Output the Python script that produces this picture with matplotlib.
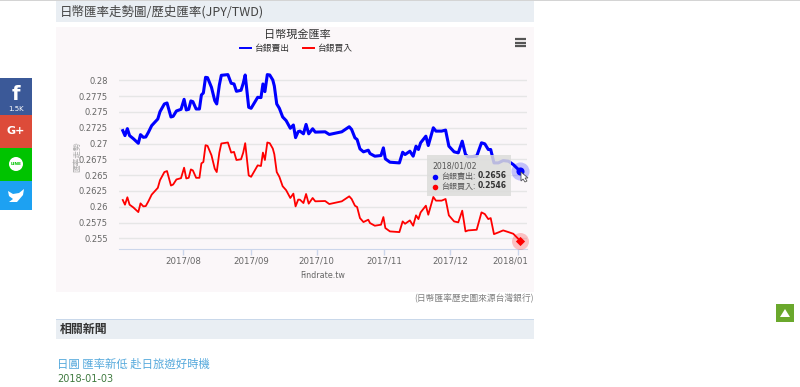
import pandas as pd
import matplotlib
matplotlib.use('Agg')
import matplotlib.pyplot as plt
from matplotlib.patches import Rectangle, Circle, Polygon
from matplotlib.transforms import ScaledTranslation

plt.rcParams['font.family'] = ['Noto Sans CJK TC', 'DejaVu Sans']

# days counted from 2017-08-01
days = [-27.5, -26.5, -25.4, -24.4, -22.7, -20.4, -19.4, -18.1, -17, -15.8,
        -14.3, -11.5, -10.5, -8.5, -7.3, -5.5, -4.5, -3, -0.9, 0.5,
        1.5, 2.6, 3.6, 4.5, 6, 7.5, 8.4, 9.3, 10.3, 11.2,
        13, 14.5, 15.4, 16.6, 17.5, 20.5, 22, 23.3, 24.4, 26.5,
        27.5, 28.4, 30, 31.1, 34.1, 35.6, 36.5, 37.4, 38.5, 39.6,
        41, 41.7, 42.8, 44, 45.5, 47.1, 49, 50.4, 51.4, 52.6,
        53.4, 55, 56.2, 57.4, 59.2, 60.4, 64.9, 66.8, 72.5, 75.9,
        77, 78.5, 79.5, 80.8, 82.4, 84.6, 85.4, 87.6, 90.4, 91.5,
        92.4, 94.5, 98.8, 100.3, 101.4, 103.6, 105.1, 106.4, 107.5, 108.5,
        110.9, 112, 114.3, 115.5, 118.1, 119.9, 121.4, 123.8, 125.7, 127.5,
        129, 130.2, 134.1, 136.3, 137.8, 139.4, 140.5, 142, 144, 146.2,
        148.6, 150.8, 154]

sell = [.27204, .27125, .27235, .27125, .27077, .27003, .2714, .27098, .27103, .27177,
        .27283, .27388, .27504, .27626, .27641, .2742, .2743, .27515, .27541, .27699,
        .27531, .27541, .27673, .27662, .27546, .27546, .27768, .278, .28047, .28042,
        .27889, .27678, .27626, .27926, .28079, .2809, .27953, .27942, .27826, .27842,
        .27953, .28084, .27573, .27557, .27731, .27726, .27942, .27821, .2809, .28084,
        .28005, .2791, .27626, .27557, .2742, .27362, .27241, .27293, .27093, .27188,
        .27196, .27153, .27302, .27153, .27233, .2718, .27185, .27143, .27185, .27265,
        .27222, .2709, .27063, .26915, .26868, .26894, .26841, .26799, .2681, .26931,
        .26757, .26704, .26693, .26862, .26825, .26878, .26799, .26958, .26905, .27011,
        .27116, .26968, .27249, .27196, .27196, .27212, .26958, .26868, .26852, .27037,
        .26825, .26788, .26799, .27011, .26995, .26905, .26905, .26693, .26693, .2673,
        .2672, .26667, .2656]

buy = [.26106, .26032, .26149, .26032, .25989, .25915, .26053, .26005, .2601, .26085,
       .26191, .26298, .2642, .26548, .26564, .26335, .26351, .26431, .26452, .26617,
       .26447, .26457, .2659, .26574, .26457, .26457, .26686, .26707, .26973, .26963,
       .26814, .26601, .26548, .26856, .27, .27016, .26856, .26867, .26739, .2675,
       .26856, .27005, .26495, .26473, .26654, .26644, .26856, .26739, .27016, .27005,
       .2692, .2683, .26548, .26473, .26324, .26261, .26138, .26207, .26005, .26112,
       .26111, .26058, .26201, .26048, .26138, .26085, .2609, .26042, .26085, .26164,
       .26122, .26016, .25995, .2582, .25757, .25794, .25741, .25699, .25715, .25836,
       .25662, .25609, .25598, .25767, .2573, .25783, .25699, .25863, .25804, .2591,
       .26016, .25873, .26154, .26096, .26096, .26122, .25863, .25767, .25752, .25937,
       .25609, .25625, .25635, .2591, .25884, .25804, .2582, .25566, .25593, .25625,
       .25598, .25572, .2546]

month_days = [0, 31, 61, 92, 122, 153]
month_labels = ['2017/08', '2017/09', '2017/10', '2017/11', '2017/12', '2018/01']
y_ticks = [.255, .2575, .26, .2625, .265, .2675, .27, .2725, .275, .2775, .28]
y_labels = ['0.255', '0.2575', '0.26', '0.2625', '0.265', '0.2675', '0.27', '0.2725', '0.275', '0.2775', '0.28']

W, H = 800, 387
fig = plt.figure(figsize=(8, 3.87), dpi=100, facecolor='white')

# page furniture drawn in pixel coordinates
bg = fig.add_axes([0, 0, 1, 1], zorder=0)
bg.set_xlim(0, W)
bg.set_ylim(H, 0)
bg.axis('off')

def box(ax, x0, y0, x1, y1, color, **kw):
    ax.add_patch(Rectangle((x0, y0), x1 - x0, y1 - y0, facecolor=color, edgecolor='none', **kw))

box(bg, 0, 0, 800, 1, '#d4d4d4')
box(bg, 56, 1, 534, 21.5, '#e9eef3')
box(bg, 56, 27, 534, 292, '#fbf7f9')
box(bg, 56, 319, 534, 338.5, '#e9eef3')
box(bg, 56, 319, 534, 320, '#c9d8ea')
bg.text(60, 12, '日幣匯率走勢圖/歷史匯率(JPY/TWD)', fontsize=9, color='#444444', va='center',
        family=['Noto Sans CJK TC', 'DejaVu Sans'])
bg.text(60, 329, '相關新聞', fontsize=8.6, color='#333333', va='center', fontweight='bold')
bg.text(534, 299, '(日幣匯率歷史圖來源台灣銀行)', fontsize=6.3, color='#808080', va='center', ha='right')
bg.text(57, 364, '日圓 匯率新低 赴日旅遊好時機', fontsize=8.2, color='#55a9dc', va='center')
bg.text(57, 379, '2018-01-03', fontsize=7, color='#3f7a3f', va='center', family='DejaVu Sans')

# social buttons
box(bg, 0, 78, 32, 115, '#3b5998')
box(bg, 0, 115, 32, 148, '#dd4b39')
box(bg, 0, 148, 32, 181, '#00c300')
box(bg, 0, 181, 32, 210, '#1da1f2')
bg.text(16, 95, 'f', color='white', fontsize=14, fontweight='bold', ha='center', va='center', family='DejaVu Sans')
bg.text(16, 109, '1.5K', color='white', fontsize=5, ha='center', va='center', family='DejaVu Sans')
bg.text(16, 131, 'G+', color='white', fontsize=8, fontweight='bold', ha='center', va='center', family='DejaVu Sans')
bg.add_patch(Circle((16, 164), 7, facecolor='white', edgecolor='none'))
bg.text(16, 164, 'LINE', color='#00c300', fontsize=3.2, fontweight='bold', ha='center', va='center', family='DejaVu Sans')
bg.add_patch(Polygon([(8, 191), (13, 194), (19, 193), (24, 189), (23, 195), (17, 202), (9, 202), (13, 199), (9, 196)],
                     facecolor='white', edgecolor='none'))

# back-to-top button
box(bg, 776, 304, 794, 322, '#6aa82c')
bg.add_patch(Polygon([(780, 317), (785, 309), (790, 317)], facecolor='white', edgecolor='none'))

# chart
x0, x1, y_top, y_bot = 119, 527, 70, 249.3
ax = fig.add_axes([x0 / W, 1 - y_bot / H, (x1 - x0) / W, (y_bot - y_top) / H], zorder=1)
ax.patch.set_alpha(0)
ax.set_xlim((x0 - 183) / 2.19, (x1 - 183) / 2.19)
ax.set_ylim(.28 - (y_bot - 80.3) / 6320, .28 + (80.3 - y_top) / 6320)
for s in ['top', 'left', 'right']:
    ax.spines[s].set_visible(False)
ax.spines['bottom'].set_color('#ccd6eb')
ax.grid(axis='y', color='#e6e6e6', lw=1)
ax.set_axisbelow(True)
ax.set_yticks(y_ticks)
ax.set_yticklabels(y_labels)
ax.set_xticks(month_days)
ax.set_xticklabels(month_labels)
ax.tick_params(axis='y', length=0, pad=8, labelsize=6, labelcolor='#666666')
ax.tick_params(axis='x', length=4, width=1, color='#ccd6eb', pad=1, labelsize=6.2, labelcolor='#666666')
for t in ax.get_xticklabels() + ax.get_yticklabels():
    t.set_family('DejaVu Sans')
# the last month label is pushed left so it stays inside the plot
last = ax.get_xticklabels()[-1]
last.set_transform(last.get_transform() + ScaledTranslation(-8 / 100, 0, fig.dpi_scale_trans))

ax.plot(days, sell, color='#0000ff', lw=2.2, solid_joinstyle='round', zorder=3)
ax.plot(days, buy, color='#ff0000', lw=1.3, solid_joinstyle='round', zorder=3)
ax.scatter(days[-1], sell[-1], s=170, color='#0000ff', alpha=.22, lw=0, zorder=4, clip_on=False)
ax.scatter(days[-1], sell[-1], s=34, color='#0000ff', lw=0, zorder=5, clip_on=False)
ax.scatter(days[-1], buy[-1], s=150, color='#ff0000', alpha=.22, lw=0, zorder=4, clip_on=False)
ax.scatter(days[-1], buy[-1], s=22, marker='D', color='#ff0000', lw=0, zorder=5, clip_on=False)

# things lying over the chart
top = fig.add_axes([0, 0, 1, 1], zorder=2)
top.set_xlim(0, W)
top.set_ylim(H, 0)
top.axis('off')
top.patch.set_alpha(0)
top.text(297, 35, '日幣現金匯率', fontsize=8, color='#333333', ha='center', va='center')
top.plot([240, 251], [48, 48], color='#0000ff', lw=1.4)
top.text(254, 48, '台銀賣出', fontsize=6.3, color='#333333', va='center')
top.plot([303, 314], [48, 48], color='#ff0000', lw=1.4)
top.text(317, 48, '台銀買入', fontsize=6.3, color='#333333', va='center')
for yy in [39, 42.5, 46]:
    top.plot([515, 526], [yy, yy], color='#555555', lw=1.6, solid_capstyle='butt')
top.text(77, 157, '匯率走勢', fontsize=5.5, color='#aaaaaa', rotation=90, ha='center', va='center')
top.text(323, 275, 'Findrate.tw', fontsize=5.8, color='#666666', ha='center', va='center', family='DejaVu Sans')

box(top, 427, 155, 511, 196, '#dcdcda', alpha=.85)
top.text(432, 166, '2018/01/02', fontsize=5.6, color='#555555', va='center', family='DejaVu Sans')
top.scatter([435], [176.5], s=16, color='#0000ff', lw=0)
top.scatter([435], [186.5], s=16, color='#ff0000', lw=0)
top.text(441, 176, '台銀賣出:', fontsize=5.8, color='#555555', va='center')
top.text(441, 186, '台銀買入:', fontsize=5.8, color='#555555', va='center')
top.text(478, 176, '0.2656', fontsize=5.5, color='#333333', va='center', fontweight='bold', family='DejaVu Sans')
top.text(478, 186, '0.2546', fontsize=5.5, color='#333333', va='center', fontweight='bold', family='DejaVu Sans')
top.add_patch(Polygon([(521, 172), (521, 181), (523, 179), (525, 182), (527, 181), (525, 178), (528, 178)],
                      facecolor='white', edgecolor='#555555', lw=.6))

fig.savefig('out.png', dpi=100)
